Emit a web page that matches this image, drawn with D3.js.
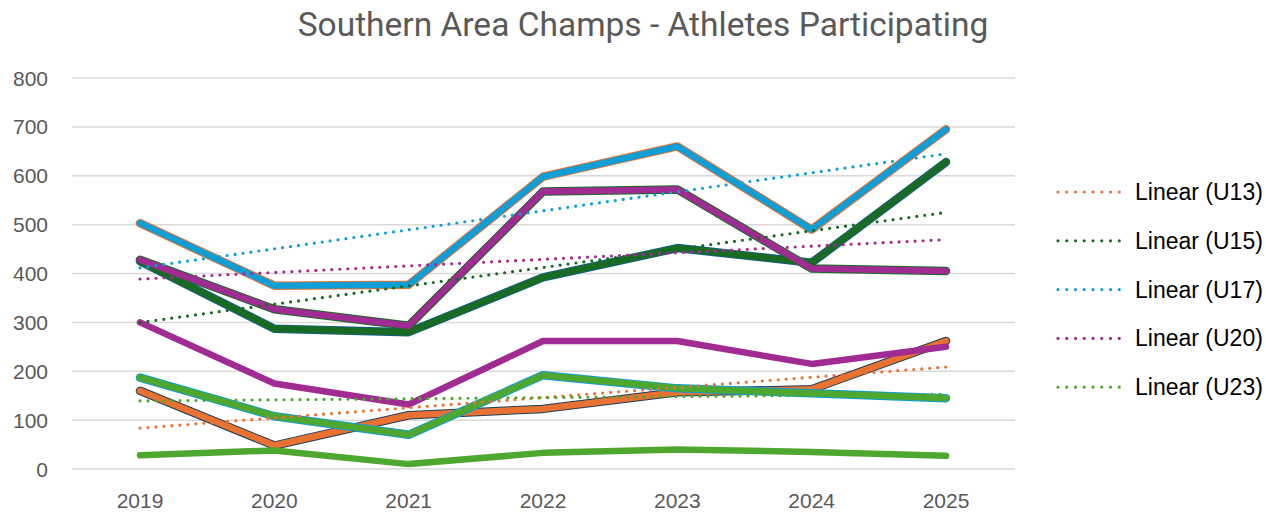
<!DOCTYPE html>
<html>
<head>
<meta charset="utf-8">
<style>
    body { margin: 0; background: #fff; }
    svg text { font-family: "Liberation Sans", Arial, sans-serif; }
</style>
</head>
<body>
<svg width="1266" height="513"></svg>
<script src="https://d3js.org/d3.v7.min.js"></script>
<script>
    // chart values
    let years = ["2019", "2020", "2021", "2022", "2023", "2024", "2025"]
    let u13 = [160, 48, 110, 123, 157, 163, 262]
    let u15 = [425, 287, 280, 392, 452, 422, 628]
    let u17 = [503, 375, 377, 598, 660, 490, 695]
    let u20 = [428, 327, 293, 568, 572, 410, 405]
    let u23 = [187, 108, 70, 192, 165, 155, 145]
    let extraPurple = [300, 175, 132, 262, 262, 215, 250]
    let extraGreen = [28, 38, 10, 33, 40, 35, 27]
    let yTicks = [0, 100, 200, 300, 400, 500, 600, 700, 800]
    let trendNames = ["Linear (U13)", "Linear (U15)", "Linear (U17)", "Linear (U20)", "Linear (U23)"]

    let svg = d3.select("svg")

    let x = d3.scalePoint()
        .domain(years)
        .range([140, 946])

    let y = d3.scaleLinear()
        .domain([0, 800])
        .range([469, 78])

    // title
    svg.append("text")
        .attr("x", 643)
        .attr("y", 36)
        .attr("text-anchor", "middle")
        .style("font-family", "Roboto, sans-serif")
        .style("font-size", "33.5px")
        .style("fill", "#595959")
        .text("Southern Area Champs - Athletes Participating")

    // gridlines
    svg.append("g")
        .selectAll("line")
        .data(yTicks)
        .join("line")
        .attr("x1", 72)
        .attr("x2", 1015)
        .attr("y1", d => y(d))
        .attr("y2", d => y(d))
        .style("stroke", "#d9d9d9")
        .style("stroke-width", 1.5)

    // y labels
    svg.append("g")
        .selectAll("text")
        .data(yTicks)
        .join("text")
        .attr("x", 48)
        .attr("y", d => y(d) + 7.5)
        .attr("text-anchor", "end")
        .style("font-size", "21px")
        .style("fill", "#595959")
        .text(d => d)

    // x labels
    svg.append("g")
        .selectAll("text")
        .data(years)
        .join("text")
        .attr("x", d => x(d))
        .attr("y", 508)
        .attr("text-anchor", "middle")
        .style("font-size", "21px")
        .style("fill", "#595959")
        .text(d => d)

    let line = d3.line()
        .x((d, i) => x(years[i]))
        .y(d => y(d))

    // series: main colour + thin outline colour (null = none)
    let series = [
        { values: u15, color: "#196B24", outline: "#156082" },
        { values: u17, color: "#0F9ED5", outline: "#E97132" },
        { values: u20, color: "#A02B93", outline: "#196B24" },
        { values: u13, color: "#E97132", outline: "#1d3f5a" },
        { values: u23, color: "#4EA72E", outline: "#0F9ED5" },
        { values: extraPurple, color: "#A02B93", outline: null },
        { values: extraGreen, color: "#4EA72E", outline: null }
    ]

    let g = svg.append("g")
    series.forEach(s => {
        if (s.outline) {
            g.append("path")
                .attr("d", line(s.values))
                .style("fill", "none")
                .style("stroke", s.outline)
                .style("stroke-width", 8.5)
                .style("stroke-linejoin", "round")
                .style("stroke-linecap", "round")
        }
        g.append("path")
            .attr("d", line(s.values))
            .style("fill", "none")
            .style("stroke", s.color)
            .style("stroke-width", 6.5)
            .style("stroke-linejoin", "round")
            .style("stroke-linecap", "round")
    })

    // linear trendlines (least squares, as the spreadsheet does)
    function fit(vals) {
        let n = vals.length
        let mx = (n - 1) / 2
        let my = d3.mean(vals)
        let num = d3.sum(vals, (v, i) => (i - mx) * (v - my))
        let den = d3.sum(vals, (v, i) => (i - mx) * (i - mx))
        let b = num / den
        return vals.map((v, i) => my + b * (i - mx))
    }

    let trends = [
        { name: trendNames[0], values: u13, color: "#E97132" },
        { name: trendNames[1], values: u15, color: "#196B24" },
        { name: trendNames[2], values: u17, color: "#0F9ED5" },
        { name: trendNames[3], values: u20, color: "#A02B93" },
        { name: trendNames[4], values: u23, color: "#4EA72E" }
    ]

    trends.forEach(t => {
        svg.append("path")
            .attr("d", line(fit(t.values)))
            .style("fill", "none")
            .style("stroke", t.color)
            .style("stroke-width", 3.2)
            .style("stroke-dasharray", "0 8")
            .style("stroke-linecap", "round")
    })

    // legend
    let legend = svg.append("g")
        .selectAll("g")
        .data(trends)
        .join("g")
        .attr("transform", (d, i) => "translate(1058," + (192 + i * 48.8) + ")")

    legend.append("line")
        .attr("x1", 0)
        .attr("x2", 70)
        .style("stroke", d => d.color)
        .style("stroke-width", 3.2)
        .style("stroke-dasharray", "0 8.75")
        .style("stroke-linecap", "round")

    legend.append("text")
        .attr("x", 77)
        .attr("y", 8)
        .style("font-size", "23px")
        .style("fill", "#000")
        .text(d => d.name)
</script>
</body>
</html>
